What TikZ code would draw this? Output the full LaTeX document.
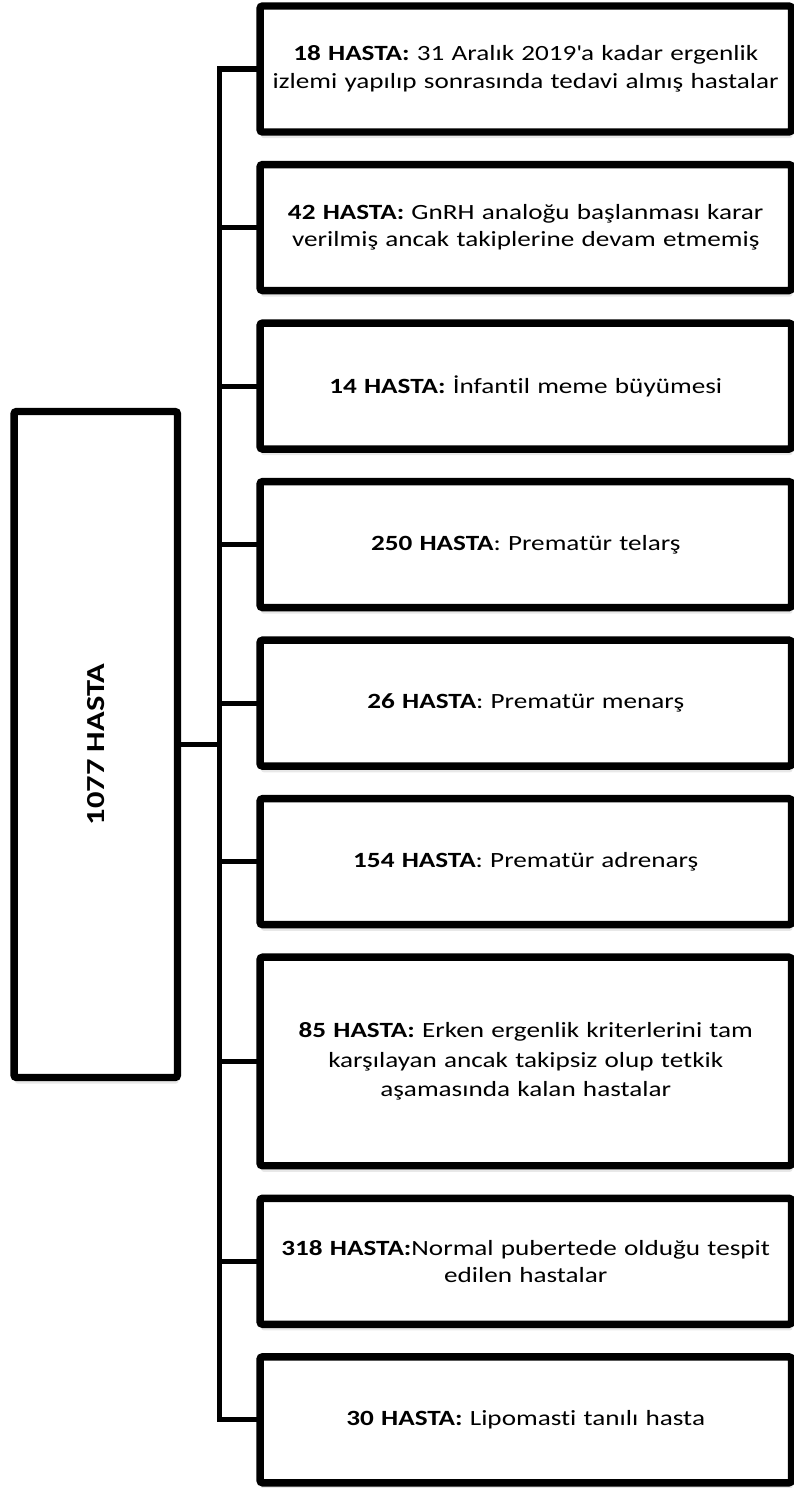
\documentclass[tikz,border=0pt]{standalone}
\usepackage{graphicx}
\usepackage{fontspec}
\setmainfont{Carlito}[FakeStretch=1.25, Ligatures=NoCommon]
\usetikzlibrary{positioning, shadows}

\begin{document}
\begin{tikzpicture}[
    x=0.75pt, y=-0.75pt,
    group/.style={draw=black, line width=5.6pt, rounded corners=2pt, fill=white,
                  minimum width=398.6pt, minimum height=#1, text width=396pt, align=center,
                  inner sep=0pt, outer sep=0pt, font=\fontsize{16.3pt}{20.6pt}\selectfont,
                  drop shadow={shadow xshift=0.8pt, shadow yshift=-4.6pt, opacity=0.18}},
    group/.default=94.5pt,
    link/.style={line width=3.8pt}
]
    \useasboundingbox (0,0) rectangle (793,1488);

    \node[draw=black, line width=5.6pt, rounded corners=2pt, fill=white, inner sep=0pt, outer sep=0pt,
          minimum width=122.6pt, minimum height=499.5pt, font=\bfseries\fontsize{19.5pt}{24pt}\selectfont,
          drop shadow={shadow xshift=0.8pt, shadow yshift=-4.6pt, opacity=0.18}]
          (total) at (95.75,744.5) {\rotatebox{90}{1077 HASTA}};

    \node[group] (p18) at (525.75,69) {\textbf{18 HASTA:} 31 Aralık 2019\textquotesingle a kadar ergenlik\\izlemi yapılıp sonrasında tedavi almış hastalar};
    \node[group, below=24.4pt of p18] (p42) {\textbf{42 HASTA:} GnRH analoğu başlanması karar\\verilmiş ancak takiplerine devam etmemiş};
    \node[group, below=24.4pt of p42] (p14) {\textbf{14 HASTA:} İnfantil meme büyümesi};
    \node[group, below=24.4pt of p14] (p250) {\textbf{250 HASTA}: Prematür telarş};
    \node[group, below=24.4pt of p250] (p26) {\textbf{26 HASTA}: Prematür menarş};
    \node[group, below=24.4pt of p26] (p154) {\textbf{154 HASTA}: Prematür adrenarş};
    \node[group=156.4pt, below=24.4pt of p154, font=\fontsize{16.3pt}{22pt}\selectfont] (p85) {\textbf{85 HASTA:} Erken ergenlik kriterlerini tam\\karşılayan ancak takipsiz olup tetkik\\aşamasında kalan hastalar};
    \node[group, below=24.4pt of p85] (p318) {\textbf{318 HASTA:}Normal pubertede olduğu tespit\\edilen hastalar};
    \node[group, below=24.4pt of p318] (p30) {\textbf{30 HASTA:} Lipomasti tanılı hasta};

    \coordinate (spine) at (219.5,0);
    \draw[link] (p18.west) -- (p18.west -| spine) -- (p30.west -| spine) -- (p30.west);
    \foreach \n in {p42,p14,p250,p26,p154,p85,p318}
        \draw[link] (\n.west) -- (\n.west -| spine);
    \draw[link] (total.east) -- (total.east -| spine);
\end{tikzpicture}
\end{document}
